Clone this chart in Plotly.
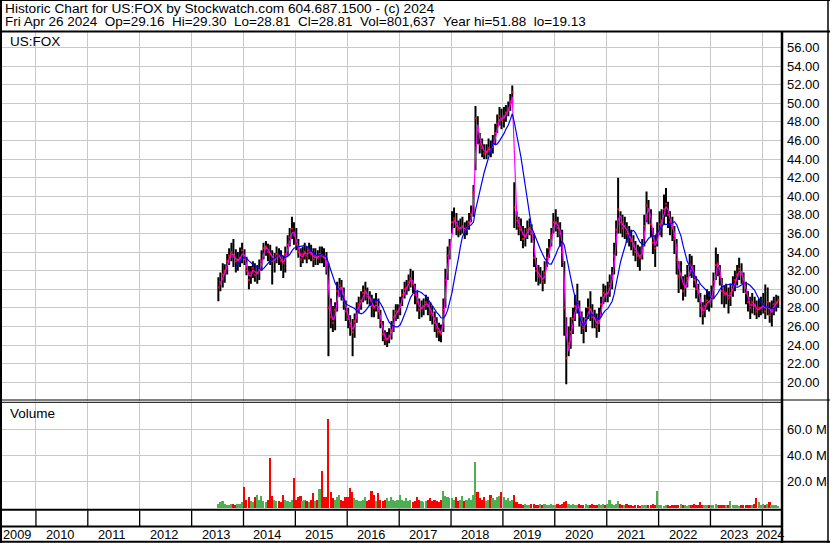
import pandas as pd
import plotly.graph_objects as go

# ---- data: semi-monthly periods (1st / 15th), Jul 2013 .. Apr 2024 ----
close = [
    30.2, 30.8, 31.6, 32.0, 33.0, 33.6, 34.0, 33.5, 33.0, 33.2, 33.4, 34.2,  # 2013 H2
    33.2, 32.0, 31.0, 31.8, 32.3, 31.5, 31.8, 32.2, 33.0, 34.4, 34.6, 34.0,
    33.8, 33.0, 33.2, 33.8, 33.6, 33.0, 32.8, 33.8, 34.8, 35.6, 36.5, 35.8,  # 2014
    34.8, 34.0, 33.2, 33.8, 34.0, 33.6, 34.2, 33.8, 33.2, 33.6, 33.4, 33.8,
    33.6, 33.4, 32.6, 28.0, 27.0, 26.4, 27.8, 29.8, 30.4, 30.0, 28.8, 27.6,  # 2015
    26.8, 26.0, 25.4, 26.6, 27.8, 28.4, 28.8, 29.6, 29.8, 29.2, 29.0, 28.2,
    28.0, 28.6, 27.6, 26.4, 25.2, 24.6, 24.6, 25.0, 25.6, 27.0, 27.6, 27.6,  # 2016
    28.4, 29.4, 30.0, 30.2, 30.8, 31.2, 30.6, 29.4, 28.6, 27.8, 28.0, 28.2,
    28.6, 28.2, 27.4, 27.2, 26.4, 25.8, 25.4, 25.2, 27.8, 31.0, 33.6, 34.6,  # 2017
    37.2, 37.6, 36.8, 36.4, 36.6, 36.8, 36.2, 36.6, 37.2, 38.0, 40.4, 48.4,
    47.0, 45.6, 45.2, 44.6, 44.8, 45.2, 45.0, 45.6, 46.8, 47.8, 48.6, 48.2,  # 2018
    48.6, 49.0, 49.4, 50.2, 51.2, 38.8, 37.4, 36.8, 36.4, 35.4, 35.8, 36.4,
    36.6, 36.0, 33.4, 32.0, 31.4, 31.4, 30.8, 31.8, 33.4, 34.4, 35.8, 37.2,  # 2019
    37.2, 36.6, 36.0, 34.0, 28.0, 22.6, 24.2, 25.4, 26.8, 28.2, 28.6, 27.2,
    26.2, 25.8, 26.8, 28.0, 27.8, 27.0, 26.8, 26.0, 26.6, 28.4, 29.6, 29.4,  # 2020
    29.6, 30.6, 31.4, 33.6, 36.4, 38.6, 37.2, 36.6, 36.8, 36.0, 35.6, 35.2,
    34.6, 34.0, 33.6, 33.4, 34.2, 36.8, 39.0, 38.4, 37.0, 35.0, 34.4, 36.0,  # 2021
    37.0, 37.4, 38.6, 39.2, 38.0, 37.2, 36.6, 35.4, 33.2, 31.4, 31.6, 29.8,
    30.4, 31.2, 32.6, 32.4, 31.0, 30.0, 29.6, 28.0, 27.4, 28.2, 28.8, 28.6,  # 2022
    29.2, 30.8, 32.6, 32.8, 31.4, 29.8, 29.4, 29.6, 29.0, 29.6, 30.4, 31.0,
    31.6, 32.2, 31.6, 30.6, 29.6, 28.6, 28.0, 28.6, 28.2, 27.6, 28.0, 28.0,  # 2023
    28.4, 27.6, 28.6, 27.2, 27.8, 28.4, 28.6, 28.81,                          # 2024
]
high = [
    31.3, 31.8, 32.8, 32.7, 33.8, 34.4, 35.0, 35.4, 34.3, 34.0, 34.5, 35.0,
    34.3, 33.5, 32.5, 32.5, 33.0, 32.8, 32.6, 33.2, 34.2, 35.0, 35.2, 34.9,
    34.8, 34.2, 33.9, 34.6, 34.4, 34.2, 33.6, 34.6, 35.8, 36.6, 37.8, 37.2,
    36.6, 35.4, 34.4, 34.6, 35.0, 34.6, 35.0, 34.8, 34.4, 34.4, 34.2, 34.6,
    34.6, 34.4, 34.0, 32.8, 29.0, 28.2, 28.6, 30.8, 31.2, 31.0, 30.2, 28.8,
    28.0, 27.2, 26.8, 27.4, 28.6, 29.2, 29.8, 30.4, 30.8, 30.2, 29.8, 29.4,
    29.0, 29.6, 29.0, 27.8, 26.6, 25.6, 25.4, 25.8, 26.6, 27.8, 28.4, 28.4,
    29.2, 30.0, 30.8, 31.0, 31.6, 32.2, 32.0, 30.6, 29.8, 29.0, 28.8, 29.0,
    29.4, 29.2, 28.6, 28.2, 27.6, 27.0, 26.4, 26.2, 29.0, 32.2, 34.6, 35.4,
    38.4, 38.8, 38.2, 37.4, 37.6, 37.8, 37.2, 37.4, 38.2, 39.0, 41.2, 49.7,
    48.6, 46.8, 46.2, 45.6, 45.6, 46.2, 46.0, 46.6, 47.8, 48.8, 49.6, 49.4,
    49.6, 49.8, 50.2, 51.0, 51.9, 41.5, 38.4, 37.8, 37.6, 36.8, 36.6, 37.4,
    37.6, 37.0, 36.0, 33.4, 32.6, 32.4, 32.0, 33.0, 34.4, 35.4, 36.6, 38.2,
    38.6, 37.8, 37.2, 36.4, 33.0, 27.0, 26.0, 27.0, 28.0, 29.4, 30.6, 28.8,
    27.6, 27.0, 28.0, 29.0, 29.8, 28.4, 27.8, 27.4, 28.0, 29.2, 30.6, 30.4,
    30.8, 31.6, 32.4, 35.0, 37.4, 42.0, 38.4, 38.0, 37.8, 37.2, 36.8, 36.4,
    35.8, 35.2, 34.8, 34.6, 35.4, 38.0, 40.5, 39.6, 38.6, 36.6, 35.8, 37.2,
    38.4, 38.6, 40.2, 40.9, 39.4, 38.4, 37.8, 36.8, 35.4, 33.0, 33.0, 31.4,
    31.6, 32.6, 33.8, 33.6, 32.6, 31.4, 30.6, 29.6, 28.6, 29.4, 30.0, 29.8,
    30.4, 31.8, 34.5, 33.8, 32.6, 31.2, 30.4, 30.6, 30.2, 30.6, 31.4, 32.0,
    32.6, 33.4, 32.8, 31.8, 30.8, 29.8, 29.2, 29.6, 29.2, 28.8, 29.0, 29.2,
    29.6, 30.5, 30.2, 28.6, 28.8, 29.2, 29.4, 29.3,
]
low = [
    28.7, 29.8, 30.2, 30.7, 31.6, 32.6, 33.0, 32.4, 31.8, 32.0, 32.4, 32.8,
    32.6, 31.5, 30.0, 30.6, 31.2, 30.8, 30.6, 31.0, 32.0, 33.2, 33.6, 33.0,
    32.6, 30.5, 31.8, 32.8, 32.6, 32.0, 31.2, 31.8, 33.6, 34.6, 35.4, 34.8,
    34.2, 33.4, 32.4, 32.8, 33.2, 32.8, 33.2, 33.0, 32.4, 32.6, 32.6, 32.8,
    32.8, 32.4, 31.6, 22.8, 25.8, 25.4, 25.6, 27.6, 29.2, 28.8, 27.8, 26.6,
    25.8, 25.0, 22.8, 24.8, 26.4, 27.4, 27.8, 28.6, 28.8, 28.4, 28.2, 27.0,
    27.0, 27.6, 26.8, 25.8, 24.4, 24.0, 23.8, 24.2, 24.6, 25.4, 26.6, 26.8,
    27.2, 28.2, 29.0, 29.4, 29.8, 30.2, 29.6, 28.4, 27.6, 26.8, 27.0, 27.2,
    27.8, 27.2, 26.6, 26.2, 25.4, 24.8, 24.4, 24.3, 25.4, 28.0, 31.0, 33.2,
    36.0, 36.6, 35.8, 35.6, 35.8, 36.0, 35.4, 35.8, 36.4, 37.2, 37.8, 42.8,
    45.6, 44.6, 44.2, 44.0, 44.0, 44.4, 44.2, 44.6, 45.6, 46.8, 47.6, 47.2,
    47.4, 48.0, 48.6, 49.2, 50.0, 36.6, 36.4, 35.8, 35.2, 34.4, 34.6, 35.4,
    35.8, 35.0, 32.4, 30.8, 30.4, 30.6, 29.8, 30.6, 32.4, 33.4, 34.6, 36.0,
    36.2, 35.6, 34.6, 32.4, 25.0, 19.8, 22.8, 23.6, 25.2, 26.6, 27.4, 26.0,
    25.2, 24.2, 25.4, 26.8, 26.6, 25.8, 25.8, 24.8, 25.4, 27.0, 28.4, 28.6,
    28.6, 29.2, 30.0, 31.6, 33.6, 36.0, 36.0, 35.6, 35.4, 35.0, 34.6, 34.2,
    33.6, 33.0, 32.4, 32.0, 33.2, 34.6, 37.2, 37.0, 35.6, 33.8, 32.4, 34.6,
    35.8, 35.6, 37.0, 37.8, 36.6, 35.8, 35.2, 33.8, 31.6, 29.6, 30.0, 28.8,
    29.2, 30.2, 31.4, 31.2, 30.2, 29.0, 28.6, 27.0, 26.2, 27.0, 27.8, 27.6,
    28.0, 29.0, 31.0, 31.4, 30.4, 28.4, 28.0, 28.4, 27.4, 28.2, 29.2, 29.8,
    30.4, 31.0, 30.6, 29.6, 28.4, 27.6, 26.8, 27.4, 27.2, 26.8, 27.0, 27.2,
    27.4, 26.8, 27.2, 26.4, 26.0, 27.2, 27.6, 28.0,
]
volume_m = [
    3, 4, 5, 3, 2, 2, 3, 3, 2, 3, 3, 4,
    16, 6, 8, 5, 4, 8, 10, 6, 9, 5, 4, 6, 38, 9, 6, 5, 5, 4, 10, 6, 5, 4, 6, 23,
    6, 8, 9, 5, 6, 5, 4, 6, 11, 5, 6, 14, 28, 8, 8, 68, 12, 7, 6, 8, 10, 6, 5, 8,
    8, 15, 12, 7, 6, 5, 5, 6, 8, 5, 6, 13, 10, 5, 11, 6, 5, 6, 7, 5, 8, 6, 5, 6,
    10, 6, 5, 7, 5, 6, 4, 5, 8, 6, 5, 4, 5, 6, 7, 5, 6, 5, 4, 6, 13, 9, 8, 7,
    7, 6, 8, 5, 6, 9, 5, 6, 7, 6, 10, 35, 12, 7, 6, 8, 5, 6, 10, 7, 6, 8, 9, 12,
    8, 6, 7, 5, 6, 10, 4, 3, 3, 2, 3, 2, 2, 3, 3, 2, 2, 3, 2, 3, 2, 2, 3, 2,
    2, 3, 2, 3, 4, 5, 3, 2, 3, 2, 2, 3, 2, 2, 3, 2, 2, 3, 2, 2, 3, 2, 3, 2,
    3, 6, 3, 2, 3, 5, 3, 2, 2, 3, 2, 2, 1, 2, 2, 1, 2, 2, 2, 2, 2, 3, 2, 13,
    2, 2, 1, 2, 2, 1, 2, 2, 2, 2, 3, 2, 2, 1, 2, 2, 3, 2, 2, 4, 2, 2, 2, 2,
    2, 2, 3, 2, 2, 2, 2, 2, 2, 5, 2, 2, 2, 1, 2, 2, 2, 2, 2, 2, 3, 7, 4, 2,
    3, 2, 3, 4, 2, 2, 2, 1,
]
price_ticks = list(range(20, 57, 2))
volume_ticks = [20, 40, 60]
years = list(range(2009, 2025))

title1 = "Historic Chart for US:FOX by Stockwatch.com 604.687.1500 - (c) 2024"
title2_parts = ["Fri Apr 26 2024", "Op=29.16", "Hi=29.30", "Lo=28.81", "Cl=28.81",
                "Vol=801,637", "Year hi=51.88", "lo=19.13"]

# ---- derived ----
periods = pd.date_range("2013-07-01", "2024-04-15", freq="SMS")
n = len(close)
assert len(high) == n and len(low) == n and len(volume_m) == n and len(periods) == n, \
    (len(close), len(high), len(low), len(volume_m), len(periods))
xd = list(periods + pd.Timedelta(days=7))
cs = pd.Series(close)
ma_fast = cs.rolling(2).mean()
ma_slow = cs.rolling(9).mean()

hl_x, hl_y = [], []
for d, h, l in zip(xd, high, low):
    hl_x += [d, d, None]
    hl_y += [l, h, None]

vol_colors = ["#4caf50" if i == 0 or close[i] >= close[i - 1] else "#ff0000" for i in range(n)]

X0 = pd.Timestamp("2009-05-07")
X1 = pd.Timestamp("2024-05-11 14:00")
W, H = 830, 543
L_PX, R_PX, T_PX, B_PX = 2, 781, 31, 509


def px2x(px):
    return (px - L_PX) / (R_PX - L_PX)


def py2y(py):
    return (B_PX - py) / (B_PX - T_PX)


def d2x(ts):
    return (ts - X0) / (X1 - X0)


FONT = "Liberation Sans, Arial, sans-serif"
GRID = "#c8c8c8"

fig = go.Figure()
fig.add_trace(go.Scatter(x=hl_x, y=hl_y, mode="lines", line=dict(color="black", width=2),
                         xaxis="x", yaxis="y", hoverinfo="skip"))
fig.add_trace(go.Scatter(x=xd, y=close, mode="markers",
                         marker=dict(color="#ff0000", size=2, symbol="square"),
                         xaxis="x", yaxis="y", hoverinfo="skip"))
fig.add_trace(go.Scatter(x=xd, y=ma_fast, mode="lines", line=dict(color="#ff00ff", width=1.2),
                         xaxis="x", yaxis="y"))
fig.add_trace(go.Scatter(x=xd, y=ma_slow, mode="lines", line=dict(color="#0000ff", width=1.2),
                         xaxis="x", yaxis="y"))
fig.add_trace(go.Bar(x=xd, y=[v * 1e6 for v in volume_m], marker=dict(color=vol_colors, line=dict(width=0)),
                     width=12 * 86400000, xaxis="x2", yaxis="y2"))

year_bounds = [pd.Timestamp(y, 1, 1) for y in years[1:]]
axis_common = dict(type="date", range=[X0, X1], tickmode="array", tickvals=year_bounds,
                   showticklabels=False, showgrid=True, gridcolor=GRID, gridwidth=1,
                   zeroline=False, showline=False, ticks="")

fig.update_layout(
    width=W, height=H,
    margin=dict(l=L_PX, r=W - R_PX, t=T_PX, b=H - B_PX, pad=0, autoexpand=False),
    paper_bgcolor="white", plot_bgcolor="white", showlegend=False, bargap=0,
    xaxis=dict(domain=[0, 1], anchor="y", **axis_common),
    xaxis2=dict(domain=[0, 1], anchor="y2", matches="x", **axis_common),
    yaxis=dict(domain=[py2y(400.5), 1], anchor="x", side="right", range=[18.04, 57.77],
               tickmode="array", tickvals=price_ticks, ticktext=[f"{v:.2f}" for v in price_ticks],
               showgrid=True, gridcolor=GRID, zeroline=False, showline=False, ticks="",
               ticklabelstandoff=5, tickfont=dict(family=FONT, size=13, color="black")),
    yaxis2=dict(domain=[0, py2y(402.5)], anchor="x2", side="right", range=[-1.54e6, 80.4e6],
                tickmode="array", tickvals=[v * 1e6 for v in volume_ticks],
                ticktext=[f"{v:.1f} M" for v in volume_ticks],
                showgrid=True, gridcolor=GRID, zeroline=False, showline=False, ticks="",
                ticklabelstandoff=5, tickfont=dict(family=FONT, size=13, color="black")),
)

ann = []
ann.append(dict(text=title1, x=px2x(2.5), y=py2y(8.9), xref="paper", yref="paper",
                xanchor="left", yanchor="middle", showarrow=False,
                font=dict(family=FONT, size=13.7, color="black")))
ann.append(dict(text="\u00a0\u00a0".join(title2_parts), x=px2x(2.5), y=py2y(21.5),
                xref="paper", yref="paper", xanchor="left", yanchor="middle", showarrow=False,
                font=dict(family=FONT, size=13.5, color="black")))
ann.append(dict(text="US:FOX", x=px2x(8), y=py2y(41.8), xref="paper", yref="paper",
                xanchor="left", yanchor="middle", showarrow=False,
                font=dict(family=FONT, size=13.5, color="black")))
ann.append(dict(text="Volume", x=px2x(8), y=py2y(413.3), xref="paper", yref="paper",
                xanchor="left", yanchor="middle", showarrow=False,
                font=dict(family=FONT, size=13.5, color="black")))
for y in years:
    a = max(pd.Timestamp(y, 1, 1), X0)
    b = min(pd.Timestamp(y + 1, 1, 1), X1)
    mid = a + (b - a) / 2
    ann.append(dict(text=str(y), x=d2x(mid), y=py2y(534.8), xref="paper", yref="paper",
                    xanchor="center", yanchor="middle", showarrow=False, xshift=-2,
                    font=dict(family=FONT, size=12.8, color="black")))
fig.update_layout(annotations=ann)


def hline(py, px0, px1, w):
    return dict(type="line", xref="paper", yref="paper", x0=px2x(px0), x1=px2x(px1),
                y0=py2y(py), y1=py2y(py), line=dict(color="black", width=w))


def vline(px, py0, py1, w):
    return dict(type="line", xref="paper", yref="paper", x0=px2x(px), x1=px2x(px),
                y0=py2y(py0), y1=py2y(py1), line=dict(color="black", width=w))


shapes = [
    vline(1, 0, 543, 2),          # outer left
    vline(828, 0, 543, 1.5),      # outer right
    hline(0.5, 0, 830, 1),        # outer top
    hline(541.8, 0, 830, 2),      # outer bottom
    hline(31.5, 0, 830, 2),       # title separator
    vline(782, 31, 543, 2.5),     # axis border
    hline(400, 0, 830, 1),        # panel separation
    hline(402.3, 0, 782, 1),
    hline(509.8, 0, 782, 2),      # volume bottom
    hline(526.5, 0, 782, 2),      # year strip bottom
]
for yb in year_bounds:
    xp = d2x(yb)
    shapes.append(dict(type="line", xref="paper", yref="paper", x0=xp, x1=xp,
                       y0=py2y(526), y1=py2y(510.5), line=dict(color="black", width=1.3)))
fig.update_layout(shapes=shapes)

fig.write_html("out.html", config={"displayModeBar": False},
               post_script="document.body.style.margin='0';document.body.style.padding='0';"
                           "document.documentElement.style.overflow='hidden';")
